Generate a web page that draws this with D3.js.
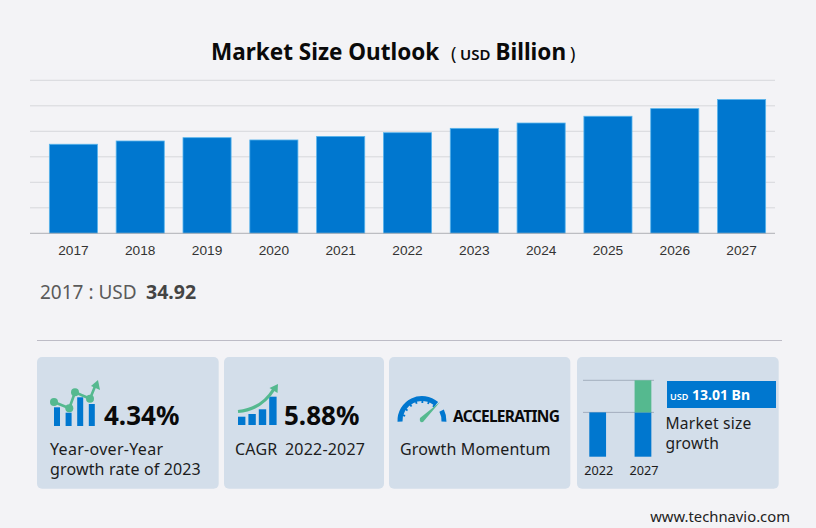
<!DOCTYPE html>
<html><head><meta charset="utf-8">
<script src="https://cdn.jsdelivr.net/npm/d3@7"></script>
<style>html,body{margin:0;padding:0;background:#f3f3f6}svg{display:block}text{font-family:"Noto Sans",sans-serif}</style>
</head><body><svg id="c" width="816" height="528"></svg>
<script>
const years=["2017","2018","2019","2020","2021","2022","2023","2024","2025","2026","2027"];
const marketSize=[34.92,36.2,37.5,36.6,38.0,39.45,41.16,43.25,45.9,48.9,52.46];
const yTicks=[0,10,20,30,40,50,60];
const miniYears=["2022","2027"];
const miniBase=[58,58];
const miniGrowth=[0,42];
const iconBars1=[18.7,13.3,28.7,22];
const iconBars2=[8.3,11,15.7,28.3];

const svg=d3.select("#c");
const bg="#f3f3f6",blue="#0077cf",green="#55b98f",ink="#0a0a0a";
svg.append("rect").attr("width",816).attr("height",528).attr("fill",bg);

function txt(x,y,s,size,o={}){
  return svg.append("text").attr("x",x).attr("y",y).text(s)
    .attr("font-size",size).attr("font-weight",o.w||400).attr("fill",o.c||"#1c1c1c")
    .attr("text-anchor",o.a||"start").attr("letter-spacing",o.ls||0)
    .style("font-family",o.f||null);
}

// title
txt(211,60,"Market Size Outlook",22.5,{w:700,c:ink});
txt(451,60,"(",18,{c:ink});
txt(460,60,"USD",15,{w:600,c:ink});
txt(495.5,60,"Billion",22.5,{w:700,c:ink});
txt(570,60,")",18,{c:ink});

// main chart
const x=d3.scaleBand().domain(years).range([40,775]).paddingInner(0.28).paddingOuter(0.14);
const y=d3.scaleLinear().domain([0,60]).range([233.3,80.3]);
const grid=svg.append("g");
grid.selectAll("line").data(yTicks.slice(1)).join("line")
  .attr("x1",30).attr("x2",775).attr("y1",d=>y(d)).attr("y2",d=>y(d))
  .attr("stroke","#d6d7dc").attr("stroke-width",1);
svg.append("g").selectAll("rect").data(marketSize).join("rect")
  .attr("x",(d,i)=>x(years[i])).attr("width",x.bandwidth())
  .attr("y",d=>y(d)).attr("height",d=>y(0)-y(d))
  .attr("fill",blue).attr("stroke","#58b4ec").attr("stroke-width",0.8);
const ax=svg.append("g").attr("transform","translate(0,233.3)")
  .call(d3.axisBottom(x).tickSize(0).tickPadding(12));
ax.select(".domain").remove();
svg.append("line").attr("x1",30).attr("x2",775).attr("y1",233.3).attr("y2",233.3).attr("stroke","#aeb0b6");
ax.selectAll("text").attr("font-size",13.7).attr("fill","#333").style("font-family","'Liberation Sans',sans-serif");

txt(40,299,"2017 : USD",19,{c:"#5a5a5a"});
txt(146,298.5,marketSize[0].toFixed(2),19.5,{w:700,c:"#444"});

// separator
svg.append("line").attr("x1",37).attr("x2",782).attr("y1",340.5).attr("y2",340.5).attr("stroke","#bdbcc6");

// cards
[[37,181.7],[224,160],[389,181.3],[577,201.7]].forEach(([cx,w])=>{
  svg.append("rect").attr("x",cx).attr("y",357).attr("width",w).attr("height",131.7).attr("rx",5).attr("fill","#d3deea");
});

// card 1 icon
const ib1=d3.scaleLinear().domain([0,30]).range([426,396]);
svg.append("g").selectAll("rect").data(iconBars1).join("rect")
  .attr("x",(d,i)=>54+i*11.6).attr("width",6).attr("y",d=>ib1(d)).attr("height",d=>426-ib1(d)).attr("fill",blue);
const pts=[[54,402],[69.3,408.3],[75,392.3],[90,398.7]];
svg.append("path").attr("d",d3.line()([...pts,[96,384]])).attr("fill","none").attr("stroke",green).attr("stroke-width",2.6);
svg.append("g").selectAll("circle").data(pts).join("circle").attr("cx",d=>d[0]).attr("cy",d=>d[1]).attr("r",4).attr("fill",green);
svg.append("path").attr("d","M98,380 L100,390 L91,386 Z").attr("fill",green);
txt(104,425,"4.34%",26,{w:700,c:ink});
txt(50,455,"Year-over-Year",16,{ls:0.3});
txt(50,475,"growth rate of 2023",16,{ls:0.15});

// card 2 icon
const ib2=d3.scaleLinear().domain([0,30]).range([425,395]);
svg.append("g").selectAll("rect").data(iconBars2).join("rect")
  .attr("x",(d,i)=>238+i*10.4).attr("width",7.4).attr("y",d=>ib2(d)).attr("height",d=>425-ib2(d)).attr("fill",blue);
svg.append("path").attr("d","M238,411.5 C255,410 266,402 274,389").attr("fill","none").attr("stroke",green).attr("stroke-width",3.2);
svg.append("path").attr("d","M278,384 L277.5,393 L269.5,388 Z").attr("fill",green);
txt(284,425,"5.88%",26,{w:700,c:ink});
txt(235,455,"CAGR",16,{ls:0.2});
txt(285,455,"2022-2027",16,{ls:0.2});

// card 3 gauge
const gArc=d3.arc().innerRadius(19.5).outerRadius(24.5).cornerRadius(0);
const g=svg.append("g").attr("transform","translate(422,420.5)");
g.append("path").attr("d",gArc({startAngle:-1.62,endAngle:0.72})).attr("fill",blue);
g.append("path").attr("d",gArc({startAngle:1.1,endAngle:1.62})).attr("fill",blue);
d3.range(-1.3,0.7,0.33).forEach(a=>{
  g.append("line").attr("x1",Math.sin(a)*17.5).attr("y1",-Math.cos(a)*17.5)
    .attr("x2",Math.sin(a)*21).attr("y2",-Math.cos(a)*21).attr("stroke",blue).attr("stroke-width",1.8);
});
svg.append("path").attr("d","M440,402 L423,422 Q419,423 420,418 Z").attr("fill",green);
txt(453,422,"ACCELERATING",15.5,{w:700,c:ink,ls:-0.7});
txt(400,455,"Growth Momentum",16,{ls:0.15});

// card 4 mini chart
const mx=d3.scaleBand().domain(miniYears).range([580.24,660.4]).paddingInner(0.63).paddingOuter(0.2);
const my=d3.scaleLinear().domain([0,100]).range([456.7,380.3]);
[100,58].forEach(v=>svg.append("line").attr("x1",583).attr("x2",654).attr("y1",my(v)).attr("y2",my(v)).attr("stroke","#a3aebd"));
svg.append("g").selectAll("rect").data(miniBase).join("rect")
  .attr("x",(d,i)=>mx(miniYears[i])).attr("width",mx.bandwidth())
  .attr("y",d=>my(d)).attr("height",d=>my(0)-my(d)).attr("fill",blue);
svg.append("g").selectAll("rect").data(miniGrowth).join("rect")
  .attr("x",(d,i)=>mx(miniYears[i])).attr("width",mx.bandwidth())
  .attr("y",(d,i)=>my(miniBase[i]+d)).attr("height",(d,i)=>my(miniBase[i])-my(miniBase[i]+d)).attr("fill",green);
miniYears.forEach(v=>txt(mx(v)+mx.bandwidth()/2+1,475,v,12.7,{a:"middle"}));
svg.append("rect").attr("x",667).attr("y",381).attr("width",109).attr("height",27).attr("fill",blue);
txt(670,400,"USD",9,{w:600,c:"#fff"});
txt(692,400,"13.01 Bn",14,{w:700,c:"#fff"});
txt(665.5,429,"Market size",15.6,{ls:0.2});
txt(665.5,449,"growth",15.6,{ls:0.2});

txt(790,522,"www.technavio.com",14.8,{a:"end",c:"#222"});
</script></body></html>
